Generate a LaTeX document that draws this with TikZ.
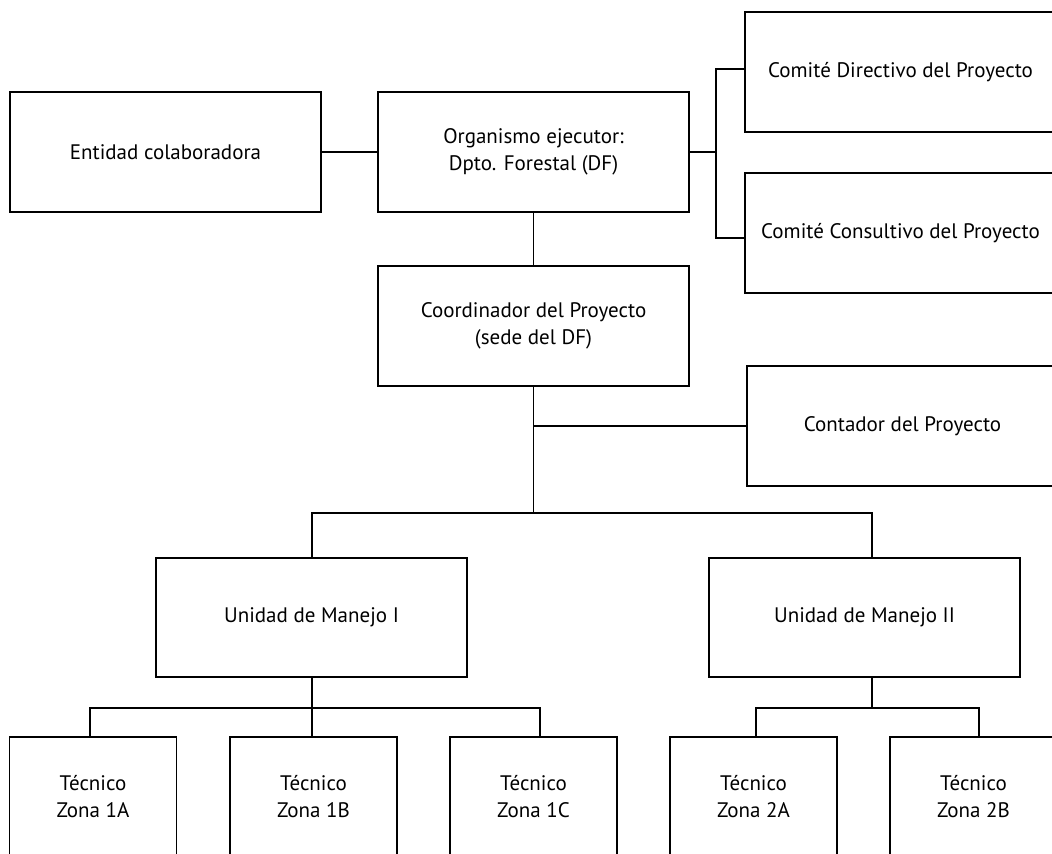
\documentclass[tikz,border=0pt]{standalone}
\usepackage{fontspec}
\setmainfont{PT Sans}
\begin{document}
\begin{tikzpicture}[x=0.5pt,y=-0.5pt,
  box/.style={draw, line width=0.7pt, inner sep=0pt, align=center,
    minimum width=155.5pt, minimum height=60pt,
    font=\fontsize{10.5}{13.5}\selectfont},
  tech/.style={box, minimum width=83.5pt},
  conn/.style={line width=0.7pt}]
\useasboundingbox (0,0) rectangle (1052,854);
\clip (0,0) rectangle (1052,854);
% boxes
\node[box] (ent) at (165.5,152) {Entidad colaboradora};
\node[box] (org) at (533.5,152) {Organismo ejecutor:\\Dpto. Forestal (DF)};
\node[box] (cd) at (900.5,72) {Comité Directivo del Proyecto};
\node[box] (cc) at (900.5,233) {Comité Consultivo del Proyecto};
\node[box] (coord) at (533.5,326) {Coordinador del Proyecto\\(sede del DF)};
\node[box] (cont) at (902.5,426) {Contador del Proyecto};
\node[box, minimum height=59.5pt] (um1) at (311.5,617.5) {Unidad de Manejo I};
\node[box, minimum height=59.5pt] (um2) at (864.5,617.5) {Unidad de Manejo II};
\node[tech] (t1a) at (93,797) {Técnico\\Zona 1A};
\node[tech] (t1b) at (313.5,797) {Técnico\\Zona 1B};
\node[tech] (t1c) at (533.5,797) {Técnico\\Zona 1C};
\node[tech] (t2a) at (753.5,797) {Técnico\\Zona 2A};
\node[tech] (t2b) at (973.5,797) {Técnico\\Zona 2B};
% junction points
\coordinate (br) at (716,152);
\coordinate (j) at (533.5,513);
\coordinate (k1) at (312,708);
\coordinate (k2) at (872,708);
% connectors
\draw[conn] (ent.east) -- (org.west);
\draw[conn] (org.east) -- (br);
\draw[conn] ([yshift=1.5pt]cd.west) -| (br) |- ([yshift=-2.5pt]cc.west);
\draw[conn] (org.south) -- (coord.north);
\draw[conn] (coord.south) -- (j);
\draw[conn] (coord.south |- cont.west) -- (cont.west);
\draw[conn] ([xshift=0.25pt]um1.north) |- (j) -| ([xshift=3.75pt]um2.north);
\draw[conn] ([xshift=0.25pt]um1.south) -- (k1);
\draw[conn] ([xshift=-1.5pt]t1a.north) |- (k1) -| ([xshift=3.25pt]t1c.north);
\draw[conn] (k1) -- (k1 |- t1b.north);
\draw[conn] ([xshift=3.75pt]um2.south) -- (k2);
\draw[conn] ([xshift=1.25pt]t2a.north) |- (k2) -| ([xshift=2.75pt]t2b.north);
\end{tikzpicture}
\end{document}
